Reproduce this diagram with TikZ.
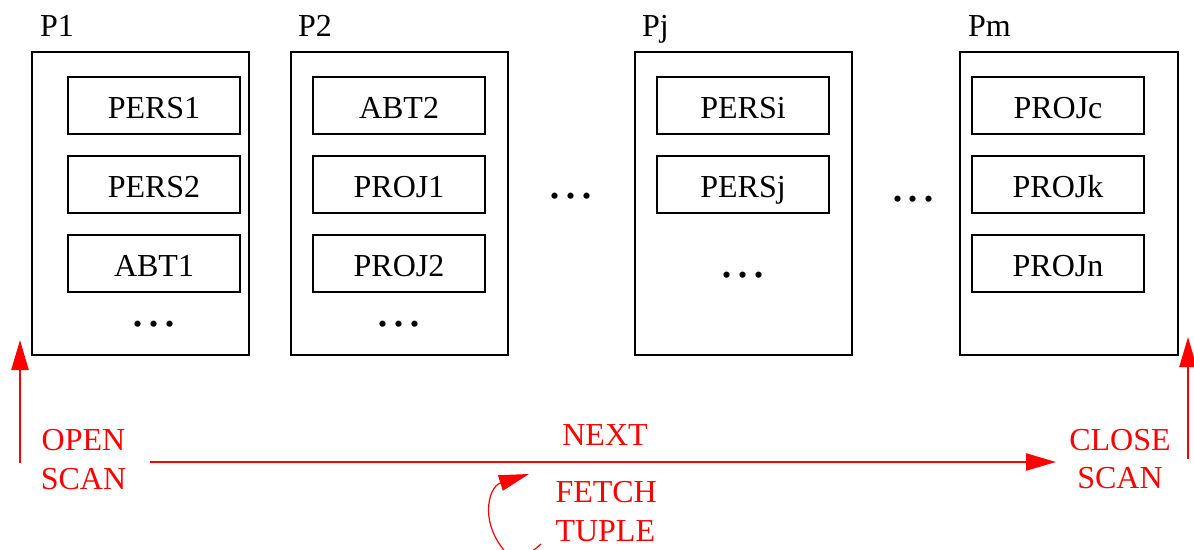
\documentclass[tikz,border=0pt]{standalone}
\usepackage{fontspec}
\setmainfont{Liberation Serif}
\usetikzlibrary{arrows.meta}
\tikzset{
  x=1pt,y=-1pt,
  every node/.style={font=\fontsize{32}{36}\selectfont,inner sep=0pt,outer sep=0pt},
  page/.style={draw=black,line width=2pt,minimum width=217pt,minimum height=303pt,anchor=north west},
  rel/.style={draw=black,line width=2pt,minimum width=172pt,minimum height=57pt,text height=25pt,text depth=0pt},
  plabel/.style={anchor=base west},
  redtext/.style={text=red,anchor=base},
  dotsA/.style={font=\fontsize{52}{52}\selectfont,anchor=base},
  flow/.style={draw=red,line width=2.4pt,-{Triangle[length=30pt,width=17pt,fill=red]}},
  loopflow/.style={draw=red,line width=1.2pt,-{Triangle[length=30pt,width=16pt,fill=red]}}
}
\newcommand{\threedots}{.\hspace{3pt}.\hspace{3pt}.}
\begin{document}
\begin{tikzpicture}
\useasboundingbox (0,0) rectangle (1194,549);
% pages
\node[page] (p1) at (32,52) {};
\node[page] (p2) at (291,52) {};
\node[page] (pj) at (635,52) {};
\node[page,minimum width=218pt] (pm) at (960,52) {};
\node[plabel] (lp1) at (40,36.5) {P1};
\node[plabel] (lp2) at (298,36.5) {P2};
\node[plabel] (lpj) at (642,36.5) {Pj};
\node[plabel] (lpm) at (968,36.5) {Pm};
% relations
\node[rel] (a1) at (154,105.5) {PERS1};
\node[rel] (a2) at (154,184.5) {PERS2};
\node[rel] (a3) at (154,263.5) {ABT1};
\node[rel] (b1) at (399,105.5) {ABT2};
\node[rel] (b2) at (399,184.5) {PROJ1};
\node[rel] (b3) at (399,263.5) {PROJ2};
\node[rel] (c1) at (743,105.5) {PERSi};
\node[rel] (c2) at (743,184.5) {PERSj};
\node[rel] (d1) at (1058,105.5) {PROJc};
\node[rel] (d2) at (1058,184.5) {PROJk};
\node[rel] (d3) at (1058,263.5) {PROJn};
% dots
\node[dotsA] (e1) at (154,326) {\threedots};
\node[dotsA] (e2) at (399,326) {\threedots};
\node[dotsA] (e3) at (743,277) {\threedots};
\node[dotsA] (e4) at (571,198) {\threedots};
\node[dotsA] (e5) at (913.5,201.5) {\threedots};
% red labels
\node[redtext] (open) at (83.5,450) {OPEN};
\node[redtext] (scanA) at (83.5,489) {SCAN};
\node[redtext] (next) at (605,445) {NEXT};
\node[redtext,anchor=base west] (fetch) at (555.5,502) {FETCH};
\node[redtext,anchor=base west] (tuple) at (555.5,541) {TUPLE};
\node[redtext] (close) at (1120,450) {CLOSE};
\node[redtext] (scanB) at (1120,488) {SCAN};
% arrows
\coordinate (oa) at (20,463);
\coordinate (ob) at (20,340);
\coordinate (ca) at (1188,459);
\coordinate (cb) at (1188,337);
\coordinate (na) at (150,462);
\coordinate (nb) at (1056,462);
\coordinate (fa) at (541,544);
\coordinate (fc) at (503,549);
\coordinate (fm) at (488.5,510);
\coordinate (fb) at (529,474);
\draw[flow] (oa) -- (ob);
\draw[flow] (ca) -- (cb);
\draw[flow] (na) -- (nb);
\begin{scope}
\clip (0,0) rectangle (1194,549);
\draw[loopflow] (fa) .. controls (525,558) and (515,565) .. (fc)
  .. controls (495,539) and (488.5,525) .. (fm)
  .. controls (488.5,496) and (494,485) .. (fb);
\end{scope}
\end{tikzpicture}
\end{document}
